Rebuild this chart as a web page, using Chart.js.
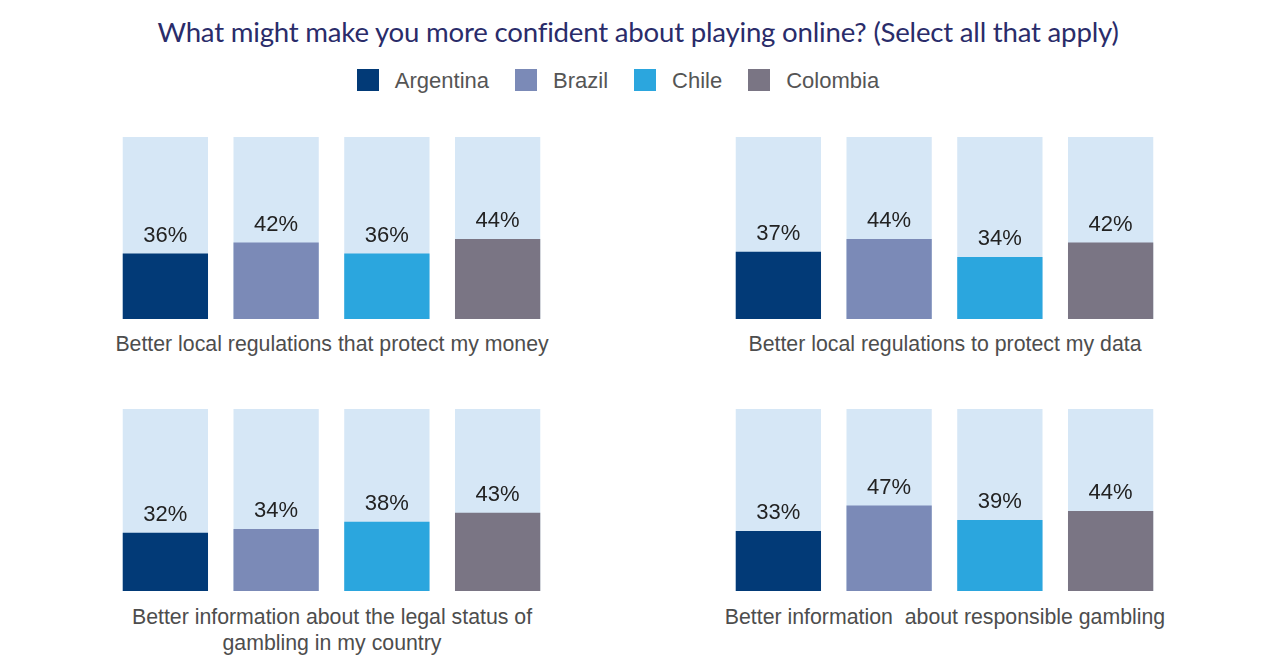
<!DOCTYPE html>
<html>
<head>
<meta charset="utf-8">
<script src="https://cdn.jsdelivr.net/npm/chart.js@4"></script>
<style>
  body { margin: 0; background: #fff; width: 1280px; height: 664px; position: relative; overflow: hidden; font-family: "Liberation Sans", Arial, sans-serif; }
  #title { position: absolute; left: 0; width: 1276px; top: 15px; text-align: center; font-family: Lato, "Noto Sans", sans-serif; font-size: 27.6px; color: #2a2c6a; letter-spacing: -0.2px; }
  #legend { position: absolute; left: 0; width: 1236px; top: 68px; text-align: center; font-size: 22px; color: #555; }
  #legend span.item { display: inline-block; margin: 0 13px; }
  #legend span.box { display: inline-block; width: 22px; height: 22px; vertical-align: -3px; margin-right: 16px; }
  .panel { position: absolute; width: 443px; height: 182px; }
  .cat { position: absolute; width: 560px; text-align: center; font-size: 21.3px; color: #4d4d4d; line-height: 26px; white-space: pre; }
</style>
</head>
<body>
<div id="title">What might make you more confident about playing online? (Select all that apply)</div>
<div id="legend"></div>

<div class="panel" style="left:110px; top:137px;"><canvas id="c1"></canvas></div>
<div class="panel" style="left:723px; top:137px;"><canvas id="c2"></canvas></div>
<div class="panel" style="left:110px; top:409px;"><canvas id="c3"></canvas></div>
<div class="panel" style="left:723px; top:409px;"><canvas id="c4"></canvas></div>

<div class="cat" id="t1" style="left:52px; top:331px;"></div>
<div class="cat" id="t2" style="left:665px; top:331px;"></div>
<div class="cat" id="t3" style="left:52px; top:604px;"></div>
<div class="cat" id="t4" style="left:665px; top:604px;"></div>

<script>
// countries (one bar each)
const countries = ['Argentina', 'Brazil', 'Chile', 'Colombia'];
const countryColors = ['#023a77', '#7b8ab7', '#2ba6de', '#7a7584'];
const trackColor = '#d6e7f6';

// panel captions
const panelTitles = [
  ['Better local regulations that protect my money'],
  ['Better local regulations to protect my data'],
  ['Better information about the legal status of', 'gambling in my country'],
  ['Better information  about responsible gambling']
];

// values in %
const moneyValues = [36, 42, 36, 44];
const dataValues = [37, 44, 34, 42];
const legalValues = [32, 34, 38, 43];
const responsibleValues = [33, 47, 39, 44];
const trackValues = [100, 100, 100, 100];

const panelValues = [moneyValues, dataValues, legalValues, responsibleValues];

// legend
const legend = document.getElementById('legend');
countries.forEach((c, i) => {
  const item = document.createElement('span');
  item.className = 'item';
  item.innerHTML = '<span class="box" style="background:' + countryColors[i] + '"></span>' + c;
  legend.appendChild(item);
});

// percent labels above each value bar
const valueLabels = {
  id: 'valueLabels',
  afterDatasetsDraw(chart) {
    const ctx = chart.ctx;
    const meta = chart.getDatasetMeta(0);
    ctx.save();
    ctx.font = '22px "Liberation Sans", Arial, sans-serif';
    ctx.fillStyle = '#222';
    ctx.textAlign = 'center';
    ctx.textBaseline = 'bottom';
    meta.data.forEach((bar, i) => {
      ctx.fillText(chart.data.datasets[0].data[i] + '%', bar.x, bar.y - 7);
    });
    ctx.restore();
  }
};

panelValues.forEach((values, p) => {
  document.getElementById('t' + (p + 1)).textContent = panelTitles[p].join('\n');
  new Chart(document.getElementById('c' + (p + 1)), {
    type: 'bar',
    data: {
      labels: countries,
      datasets: [
        {
          data: values,
          backgroundColor: countryColors,
          barPercentage: 0.77,
          categoryPercentage: 1,
          order: 0
        },
        {
          data: trackValues,
          backgroundColor: trackColor,
          barPercentage: 0.77,
          categoryPercentage: 1,
          order: 1
        }
      ]
    },
    options: {
      responsive: true,
      maintainAspectRatio: false,
      animation: false,
      layout: { padding: 0 },
      plugins: {
        legend: { display: false },
        tooltip: { enabled: false }
      },
      scales: {
        x: { stacked: true, display: false },
        y: { stacked: false, display: false, min: 0, max: 100 }
      }
    },
    plugins: [valueLabels]
  });
});
</script>
</body>
</html>
